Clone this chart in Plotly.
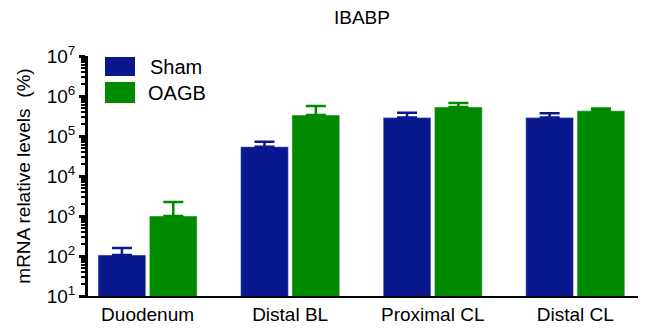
import plotly.graph_objects as go

categories = ["Duodenum", "Distal BL", "Proximal CL", "Distal CL"]
sham = [106, 54000, 288000, 288000]
sham_err = [52, 18000, 95000, 82000]
oagb = [1000, 335000, 530000, 428000]
oagb_err = [1240, 227000, 138000, 62000]
ytickvals = [1e1, 1e2, 1e3, 1e4, 1e5, 1e6, 1e7]
yticktext = ["10<sup>1</sup>", "10<sup>2</sup>", "10<sup>3</sup>", "10<sup>4</sup>",
             "10<sup>5</sup>", "10<sup>6</sup>", "10<sup>7</sup>"]

BLUE = "rgb(10,24,142)"
GREEN = "rgb(0,138,0)"

OFF = 8  # page body margin offset
L, R, T, B = 88 - OFF, 638 - OFF, 56 - OFF, 296 - OFF
W, H = 649 - OFF, 331 - OFF

def px(x):
    return (x - OFF - L) / (R - L)

def py(y):
    return (B - (y - OFF)) / (B - T)

fig = go.Figure()
fig.add_trace(go.Bar(
    x=categories, y=sham, name="Sham", marker_color=BLUE,
    error_y=dict(type="data", array=sham_err, arrayminus=[0]*4, symmetric=False,
                 color=BLUE, thickness=2.5, width=10),
))
fig.add_trace(go.Bar(
    x=categories, y=oagb, name="OAGB", marker_color=GREEN,
    error_y=dict(type="data", array=oagb_err, arrayminus=[0]*4, symmetric=False,
                 color=GREEN, thickness=2.5, width=10),
))

fig.update_layout(
    width=W, height=H,
    margin=dict(l=L, r=W - R, t=T, b=H - B, autoexpand=False),
    paper_bgcolor="white", plot_bgcolor="white",
    barmode="group", bargap=0.28, bargroupgap=0.07,
    showlegend=False,
    font=dict(family="Arial, Liberation Sans, sans-serif", color="black"),
    title=dict(text="IBABP", x=px(362), xanchor="center", xref="paper",
               y=1 - (17 - OFF) / H, yanchor="middle",
               font=dict(size=19, color="black")),
)
fig.update_xaxes(
    range=[-0.418, 3.44], showline=True, linecolor="black", linewidth=2,
    ticks="", tickfont=dict(size=19), showgrid=False, zeroline=False,
    automargin=False,
)
fig.update_yaxes(
    type="log", range=[1, 7], tickvals=ytickvals, ticktext=yticktext,
    showline=True, linecolor="black", linewidth=3, ticks="outside", ticklen=6,
    tickwidth=2.5, tickcolor="black", tickfont=dict(size=19), showgrid=False,
    zeroline=False, automargin=False,
    minor=dict(ticks="outside", ticklen=4, tickwidth=1.5, tickcolor="black",
               dtick="D1", showgrid=False),
    title=dict(text="mRNA relative levels \u00a0(%)", font=dict(size=19), standoff=12),
)

# legend drawn manually for large swatches
fig.add_shape(type="rect", xref="paper", yref="paper",
              x0=px(105), x1=px(135), y0=py(76), y1=py(57),
              fillcolor=BLUE, line=dict(width=0))
fig.add_shape(type="rect", xref="paper", yref="paper",
              x0=px(105), x1=px(135), y0=py(103), y1=py(82),
              fillcolor=GREEN, line=dict(width=0))
fig.add_annotation(text="Sham", xref="paper", yref="paper", x=px(148),
                   y=py(67), xanchor="left", yanchor="middle",
                   showarrow=False, font=dict(size=20))
fig.add_annotation(text="OAGB", xref="paper", yref="paper", x=px(146),
                   y=py(93), xanchor="left", yanchor="middle",
                   showarrow=False, font=dict(size=20))

fig.write_html("out.html")
